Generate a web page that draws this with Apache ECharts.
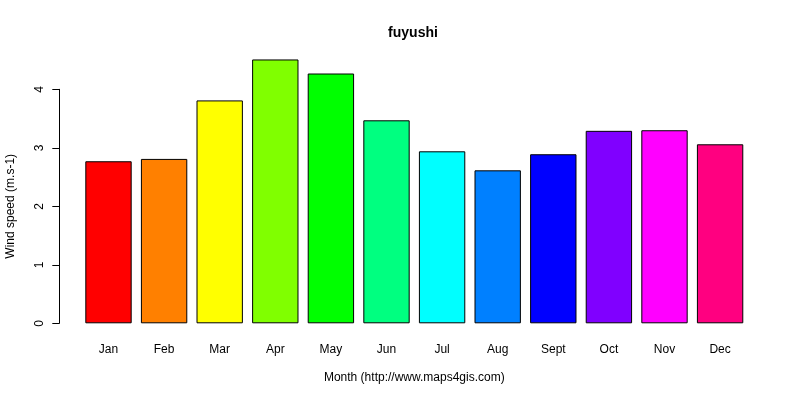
<!DOCTYPE html>
<html>
<head>
<meta charset="utf-8">
<script src="https://cdn.jsdelivr.net/npm/echarts@6/dist/echarts.min.js"></script>
<style>
  html, body { margin: 0; padding: 0; background: #fff; }
  #chart { width: 800px; height: 400px; }
</style>
</head>
<body>
<div id="chart"></div>
<script>
// monthly mean wind speed
const months = ['Jan', 'Feb', 'Mar', 'Apr', 'May', 'Jun', 'Jul', 'Aug', 'Sept', 'Oct', 'Nov', 'Dec'];
const windSpeed = [2.77, 2.81, 3.81, 4.51, 4.27, 3.47, 2.94, 2.615, 2.89, 3.29, 3.30, 3.06];
// R rainbow(12)
const barColors = ['#FF0000', '#FF8000', '#FFFF00', '#80FF00', '#00FF00', '#00FF80',
                   '#00FFFF', '#0080FF', '#0000FF', '#8000FF', '#FF00FF', '#FF0080'];
const yTicks = [0, 1, 2, 3, 4];

const font = 'Liberation Sans, Arial, sans-serif';
let chart = echarts.init(document.getElementById('chart'));

let option = {};
option.animation = false;
option.textStyle = { fontFamily: font };
option.title = {
  text: 'fuyushi',
  left: 408,
  top: 21,
  textAlign: 'center',
  textStyle: { fontFamily: font, fontSize: 14, fontWeight: 'bold', color: '#000' }
};
option.grid = { left: 80.7, right: 52.1, top: 89.3, bottom: 76.7, outerBoundsMode: 'none', containLabel: false };

option.xAxis = {
  type: 'category',
  data: months,
  name: 'Month (http://www.maps4gis.com)',
  nameLocation: 'middle',
  nameGap: 48,
  nameTextStyle: { fontFamily: font, fontSize: 12, color: '#000' },
  axisLine: { show: false },
  axisTick: { show: false },
  axisLabel: { fontFamily: font, fontSize: 12, color: '#000', margin: 20, interval: 0 }
};

option.yAxis = {
  type: 'value',
  min: yTicks[0],
  max: yTicks[yTicks.length - 1],
  interval: 1,
  offset: 21.4,
  name: 'Wind speed (m.s-1)',
  nameLocation: 'middle',
  nameRotate: 90,
  nameGap: 43,
  nameTextStyle: { fontFamily: font, fontSize: 12, color: '#000' },
  axisLine: { show: true, lineStyle: { color: '#000', width: 1 } },
  axisTick: { show: true, length: 7, lineStyle: { color: '#000', width: 1 } },
  axisLabel: { fontFamily: font, fontSize: 12, color: '#000', rotate: 90, margin: 14 },
  splitLine: { show: false }
};

option.series = [{
  type: 'bar',
  clip: false,
  barCategoryGap: '16.6%',
  data: windSpeed.map((v, i) => ({
    value: v,
    itemStyle: { color: barColors[i], borderColor: '#000', borderWidth: 1 }
  }))
}];

chart.setOption(option);
</script>
</body>
</html>
